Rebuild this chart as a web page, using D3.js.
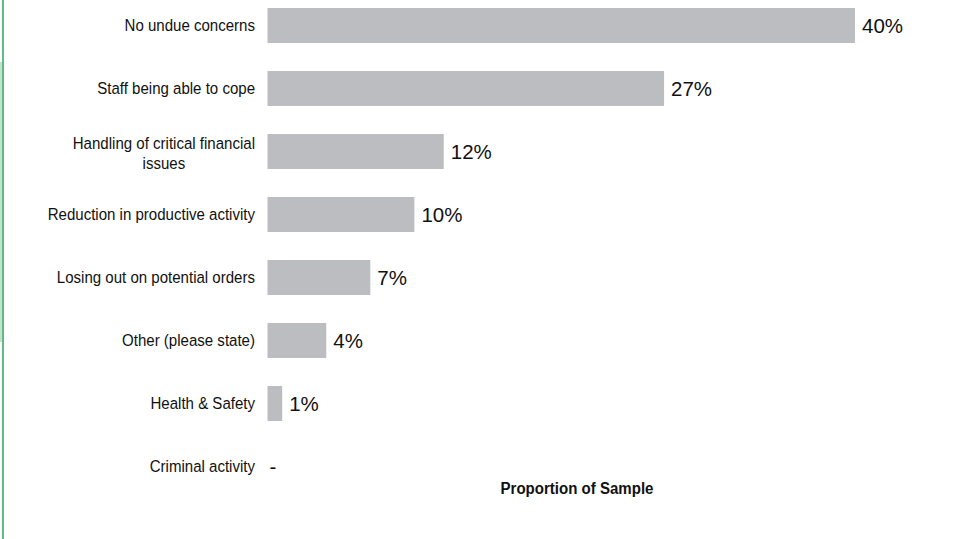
<!DOCTYPE html>
<html>
<head>
<meta charset="utf-8">
<script src="https://cdn.jsdelivr.net/npm/d3@7/dist/d3.min.js"></script>
<style>
  html, body { margin: 0; padding: 0; background: #ffffff; }
  svg { display: block; }
</style>
</head>
<body>
<svg id="chart" width="962" height="539"></svg>
<script>
// Survey concerns, share of respondents (%)
const categories = [
  "No undue concerns",
  "Staff being able to cope",
  "Handling of critical financial|issues",
  "Reduction in productive activity",
  "Losing out on potential orders",
  "Other (please state)",
  "Health & Safety",
  "Criminal activity"
];
const values = [40, 27, 12, 10, 7, 4, 1, 0];
const axisTitle = "Proportion of Sample";

const svg = d3.select("#chart");
const W = 962, H = 539;
const FONT = "Liberation Sans, Arial, sans-serif";
const condense = 0.885;

// Left frame rule
svg.append("rect").attr("x", 0).attr("y", 62).attr("width", 2).attr("height", 280)
  .attr("fill", "#bfe3cb");
svg.append("rect").attr("x", 2).attr("y", 0).attr("width", 2).attr("height", H)
  .attr("fill", "#62b983");

const data = categories.map((c, i) => ({ cat: c, v: values[i] }));

const x = d3.scaleLinear().domain([0, 40]).range([267.5, 855]);
const y = d3.scaleBand().domain(categories).range([-6, -6 + 8 * 63])
  .paddingInner(28 / 63).paddingOuter(14 / 63);

// Bars
svg.append("g").selectAll("rect").data(data).join("rect")
  .attr("x", x(0))
  .attr("y", d => y(d.cat))
  .attr("width", d => x(d.v) - x(0))
  .attr("height", y.bandwidth())
  .attr("fill", "#bcbdc1");

// Value labels
svg.append("g").selectAll("text").data(data).join("text")
  .attr("x", d => x(d.v) + (d.v > 0 ? 7 : 2))
  .attr("y", d => y(d.cat) + y.bandwidth() / 2)
  .attr("dy", "0.35em")
  .attr("font-family", FONT)
  .attr("font-size", 20.5)
  .attr("fill", "#111")
  .text(d => d.v > 0 ? d.v + "%" : "-");

// Category labels in a slightly condensed face; multi-line labels are
// centred line by line as a right-aligned block
const catG = svg.append("g")
  .attr("transform", `translate(255,0) scale(${condense},1)`)
  .attr("font-family", FONT)
  .attr("font-size", 17)
  .attr("fill", "#111");

data.forEach(d => {
  const lines = d.cat.split("|");
  const cy = y(d.cat) + y.bandwidth() / 2;
  const lh = 20;
  const t = catG.append("text");
  lines.forEach((ln, i) => {
    t.append("tspan").text(ln)
      .attr("y", cy + (i - (lines.length - 1) / 2) * lh + (lines.length > 1 ? 1.5 : 0))
      .attr("dy", "0.35em");
  });
  if (lines.length === 1) {
    t.attr("text-anchor", "end").selectAll("tspan").attr("x", 0);
  } else {
    const widths = [];
    t.selectAll("tspan").each(function () { widths.push(this.getComputedTextLength()); });
    const maxW = d3.max(widths);
    t.attr("text-anchor", "middle").selectAll("tspan").attr("x", -maxW / 2);
  }
});

// Axis title
svg.append("g")
  .attr("transform", `translate(577,494) scale(${condense},1)`)
  .append("text")
  .attr("text-anchor", "middle")
  .attr("font-family", FONT)
  .attr("font-size", 17)
  .attr("font-weight", "bold")
  .attr("fill", "#111")
  .text(axisTitle);
</script>
</body>
</html>
